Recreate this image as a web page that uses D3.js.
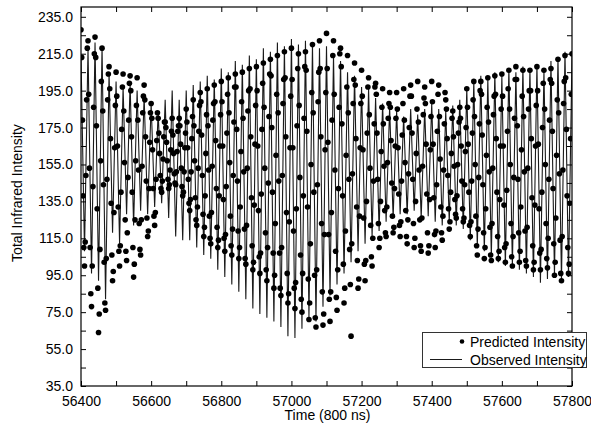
<!DOCTYPE html>
<html><head><meta charset="utf-8">
<script src="https://cdn.jsdelivr.net/npm/d3@7"></script>
<style>
html,body{margin:0;padding:0;background:#fff;}
text{font-family:"Liberation Sans",Arial,Helvetica,sans-serif;}
</style></head>
<body><svg id="chart" width="591" height="428"></svg>
<script>
// ---- data ----
const timeStart = 56400;
const obsStep = 10;     // observed: alternating peak / trough every 10 time units
const predStep = 2;     // predicted: one point every 2 time units

const observed = [
214,108, 218,96, 221,92, 219,82, 205,118, 200,112, 197,128, 199,122, 195,130, 192,128,
188,132, 184,134, 190,126, 195,116, 190,114, 195,114, 198,110, 200,106, 203,104, 201,98,
207,94, 205,90, 211,86, 209,82, 214,77, 212,74, 218,72, 216,70, 221,67, 219,62,
223,61, 220,66, 222,72, 220,70, 218,78, 219,84, 214,90, 211,96, 205,102, 203,108,
197,112, 196,116, 191,119, 188,124, 186,126, 184,128, 181,128, 185,130, 182,126, 185,127,
188,124, 185,122, 184,124, 187,122, 190,120, 196,114, 200,110, 203,108, 201,105, 205,102,
203,100, 207,100, 205,98, 208,96, 207,94, 209,91, 206,93, 211,95, 213,92, 216,94,
214
];

const predicted = [
228,213,179,138,110,100,113,149,190,218,
222,193,153,110,85,78,100,143,186,215,
224,213,176,131,88,64,74,109,157,200,
218,184,144,102,80,76,104,147,190,204,
208,196,169,134,106,92,97,129,164,187,
205,192,165,132,108,100,111,140,174,197,
204,184,156,125,108,103,118,148,179,199,
203,195,170,140,110,94,101,125,157,187,
202,179,152,123,109,106,125,154,183,192,
198,190,170,146,126,116,119,142,167,183,
188,180,163,142,127,122,129,147,168,183,
180,172,161,149,142,140,146,158,170,178,
178,175,167,157,147,142,144,152,163,173,
180,171,161,150,145,144,151,162,173,176,
180,176,166,153,143,138,140,151,164,172,
185,178,164,147,134,130,136,151,169,181,
190,176,157,137,125,122,132,153,173,187,
194,189,171,149,128,116,121,138,161,182,
196,176,152,127,115,112,129,154,179,188,
198,189,168,142,121,110,114,138,165,182,
200,189,165,136,115,108,117,143,172,193,
202,183,156,127,111,106,120,149,178,197,
204,197,174,146,119,104,110,132,162,189,
205,180,151,120,104,101,122,153,184,195,
207,196,170,137,111,98,102,133,166,187,
208,195,165,130,105,96,107,139,174,199,
210,186,153,118,98,92,110,145,181,204,
212,203,175,140,107,88,95,123,160,193,
214,183,146,107,88,84,110,149,188,201,
216,202,170,129,96,80,85,124,164,192,
218,201,164,119,88,77,91,131,176,207,
215,187,148,106,82,75,96,138,180,208,
216,206,173,132,93,71,80,112,155,194,
220,183,140,95,72,67,98,144,189,205,
222,207,170,123,86,68,74,117,163,194,
226,207,167,117,82,70,86,129,179,214,
222,193,152,108,83,76,98,142,186,215,
218,208,177,138,101,80,88,119,160,197,
214,183,147,109,90,62,112,150,188,201,
210,198,169,132,103,88,93,127,164,188,
206,192,163,126,101,92,103,135,172,197,
202,182,153,122,105,100,115,146,177,197,
199,193,172,147,123,110,115,135,162,186,
196,177,154,130,118,116,132,156,180,188,
194,186,168,145,127,118,121,142,165,180,
194,185,164,139,122,116,124,146,171,188,
196,179,156,130,116,112,125,150,175,192,
198,192,172,147,123,110,115,135,161,185,
200,178,152,125,111,108,126,154,182,191,
197,188,166,139,118,107,111,136,163,181,
200,189,166,137,117,110,119,144,173,193,
198,181,158,132,118,114,127,152,177,194,
190,185,169,149,131,120,124,140,161,180,
184,170,154,136,128,126,138,155,172,178,
186,180,165,146,131,124,126,144,162,175,
196,186,166,140,122,116,124,146,172,190,
200,181,155,127,111,106,120,148,177,195,
200,193,171,144,118,104,110,131,160,186,
202,178,151,121,106,103,123,153,182,192,
203,193,169,140,116,104,108,136,165,185,
204,192,165,133,110,102,112,141,173,196,
206,185,155,123,105,100,116,148,180,201,
208,201,176,147,118,102,108,132,163,192,
206,181,151,119,103,100,121,153,185,195,
206,195,169,137,111,98,102,133,165,187,
208,195,166,131,107,98,109,140,175,199,
206,185,155,123,104,99,115,147,179,201,
207,199,173,142,112,95,102,126,160,190,
212,183,150,114,96,92,116,152,188,200,
214,202,174,138,110,96,101,134,169,193,
215
];

const xTickValues = [56400,56500,56600,56700,56800,56900,57000,57100,57200,57300,57400,57500,57600,57700,57800];
const xTickLabels = ["56400","","56600","","56800","","57000","","57200","","57400","","57600","","57800"];
const yTickValues = [35,45,55,65,75,85,95,105,115,125,135,145,155,165,175,185,195,205,215,225,235];
const yTickLabels = ["35.0","","55.0","","75.0","","95.0","","115.0","","135.0","","155.0","","175.0","","195.0","","215.0","","235.0"];

const xLabel = "Time (800 ns)";
const yLabel = "Total Infrared Intensity";
const legendLabels = ["Predicted Intensity", "Observed Intensity"];

// ---- drawing ----
const svg = d3.select("#chart");
const L = 81, R = 572, T = 7, B = 386;
const x = d3.scaleLinear().domain([56400, 57800]).range([L, R]);
const y = d3.scaleLinear().domain([35, 240.3]).range([B, T]);

svg.append("rect").attr("width",591).attr("height",428).attr("fill","#fff");

svg.append("clipPath").attr("id","clip").append("rect")
  .attr("x",L).attr("y",T).attr("width",R-L).attr("height",B-T);

const obsPts = observed.map((v,i)=>({t: timeStart + i*obsStep, v}));
const predPts = predicted.map((v,i)=>({t: timeStart + i*predStep, v}));

const plot = svg.append("g").attr("clip-path","url(#clip)");
plot.append("path").datum(obsPts)
  .attr("d", d3.line().x(d=>x(d.t)).y(d=>y(d.v)))
  .attr("fill","none").attr("stroke","#1a1a1a").attr("stroke-width",1.1);

plot.selectAll("circle.p").data(predPts).join("circle")
  .attr("class","p")
  .attr("cx", d=>x(d.t)).attr("cy", d=>y(d.v)).attr("r", 2.8)
  .attr("fill","#000");

// axes
const fmtX = (d)=> xTickLabels[xTickValues.indexOf(d)];
const fmtY = (d)=> yTickLabels[yTickValues.indexOf(d)];

const gx = svg.append("g").attr("transform",`translate(0,${B})`)
  .call(d3.axisBottom(x).tickValues(xTickValues).tickFormat(fmtX).tickSizeInner(-5).tickSizeOuter(0).tickPadding(10));
const gxt = svg.append("g").attr("transform",`translate(0,${T})`)
  .call(d3.axisTop(x).tickValues(xTickValues).tickFormat("").tickSizeInner(-5).tickSizeOuter(0));
const gy = svg.append("g").attr("transform",`translate(${L},0)`)
  .call(d3.axisLeft(y).tickValues(yTickValues).tickFormat(fmtY).tickSizeInner(-5).tickSizeOuter(0).tickPadding(8));
const gyr = svg.append("g").attr("transform",`translate(${R},0)`)
  .call(d3.axisRight(y).tickValues(yTickValues).tickFormat("").tickSizeInner(-5).tickSizeOuter(0));

[gx,gxt,gy,gyr].forEach(g=>{
  g.select(".domain").remove();
  g.selectAll("line").attr("stroke","#000");
  g.selectAll("text").attr("font-size",14).attr("fill","#000")
    .attr("font-family",'"Liberation Sans",Arial,sans-serif');
});

svg.append("rect").attr("x",L).attr("y",T).attr("width",R-L).attr("height",B-T)
  .attr("fill","none").attr("stroke","#000").attr("stroke-width",1.2);

svg.append("text").attr("x",(L+R)/2 + 1).attr("y",420).attr("text-anchor","middle")
  .attr("font-size",14).text(xLabel);
svg.append("text").attr("transform","translate(22,193) rotate(-90)").attr("text-anchor","middle")
  .attr("font-size",14).text(yLabel);

// legend
const lg = svg.append("g");
lg.append("rect").attr("x",422.5).attr("y",332.5).attr("width",164).attr("height",35)
  .attr("fill","#fff").attr("stroke","#333").attr("stroke-width",1);
lg.append("circle").attr("cx",462).attr("cy",341.5).attr("r",2.3).attr("fill","#000");
lg.append("text").attr("x",470).attr("y",346.5).attr("font-size",14).text(legendLabels[0]);
lg.append("line").attr("x1",430).attr("x2",462).attr("y1",359.5).attr("y2",359.5)
  .attr("stroke","#1a1a1a").attr("stroke-width",1);
lg.append("text").attr("x",470).attr("y",364.5).attr("font-size",14).text(legendLabels[1]);
</script></body></html>
